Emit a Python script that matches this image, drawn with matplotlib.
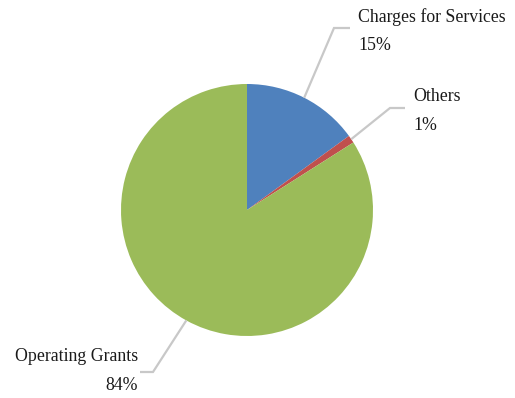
import numpy as np
import matplotlib.pyplot as plt

labels = ["Charges for Services", "Others", "Operating Grants"]
shares = [15, 1, 84]
colors = ["#4F81BD", "#C0504D", "#9BBB59"]

W, H = 515, 398
fig = plt.figure(figsize=(W / 100, H / 100), dpi=100)
ax = fig.add_axes([0, 0, 1, 1])

cx, cy, r = 247, H - 210, 126
ax.pie(shares, colors=colors, startangle=90, counterclock=False,
       center=(cx, cy), radius=r, frame=True,
       wedgeprops=dict(linewidth=0))
ax.set_xlim(0, W)
ax.set_ylim(0, H)
ax.set_aspect("equal")
ax.axis("off")

# elbow point of each leader line, label anchor and alignment
elbows = [(334, H - 28, 350), (390, H - 108, 405), (153, H - 372, 140)]
anchors = [(358, H - 31, "left"), (413, H - 111, "left"), (138, H - 371, "right")]

start = 90.0
for lab, val, (ex, ey, hx), (tx, ty, ha) in zip(labels, shares, elbows, anchors):
    mid = np.deg2rad(start - val / sum(shares) * 360 / 2)
    start -= val / sum(shares) * 360
    px, py = cx + r * np.cos(mid), cy + r * np.sin(mid)
    ax.plot([px, ex, hx], [py, ey, ey], color="#C8C8C8", lw=1.6,
            solid_capstyle="butt", solid_joinstyle="miter")
    ax.text(tx, ty, f"{lab}\n{val}%", ha=ha, va="center", multialignment=ha,
            fontsize=12.8, family="Liberation Serif", color="#1a1a1a",
            linespacing=1.85)

fig.savefig("out.png", dpi=100)
